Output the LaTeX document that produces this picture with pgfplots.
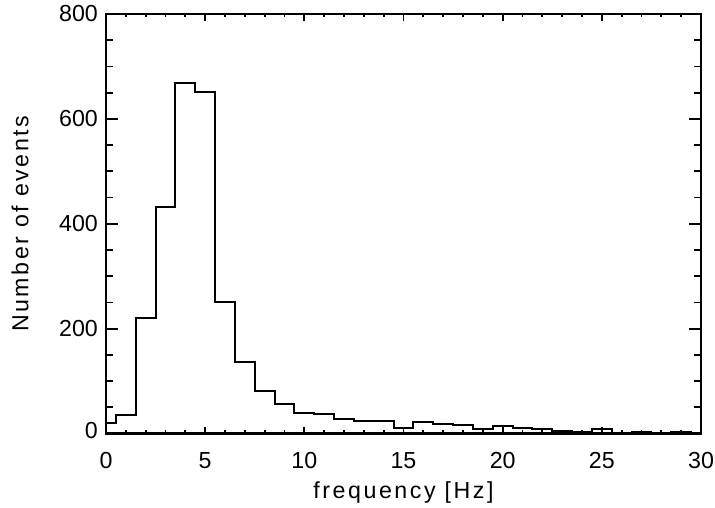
\documentclass[border=0pt]{standalone}
\usepackage{fontspec}
\setmainfont{Liberation Sans}
\newfontfamily\labelfont[LetterSpace=11]{Liberation Sans}
\usepackage{pgfplots}
\pgfplotsset{compat=1.18}
\begin{document}
\fontsize{11.6}{13.9}\selectfont
\begin{tikzpicture}
  \path[use as bounding box] (-53pt,-36.75pt) rectangle (304.5pt,216.75pt);
  % histogram and x ticks
  \begin{axis}[
      name=ax,
      scale only axis,
      width=297.5pt, height=209.75pt,
      xmin=0, xmax=30, ymin=0, ymax=800,
      xtick={0,5,...,30}, minor x tick num=4,
      ytick=\empty,
      tick align=inside,
      major tick length=3.3pt, minor tick length=1.7pt,
      axis line style={line width=1pt},
      every tick/.style={black, line width=0.9pt},
      /pgf/number format/assume math mode=true,
      xticklabel style={yshift=-5.5pt},
      xlabel={\labelfont frequency [Hz]},
      xlabel style={at={(axis description cs:0.5,-0.1418)}, anchor=center},
  ]
    % counts per 1 Hz bin, bins centred on integers
    \addplot[const plot mark mid, black, line width=1pt] coordinates {
      (0,20) (1,35) (2,221) (3,431) (4,669) (5,652) (6,250) (7,136)
      (8,82) (9,57) (10,39) (11,37) (12,28) (13,23) (14,23) (15,10)
      (16,22) (17,19) (18,17) (19,8) (20,14) (21,11) (22,9) (23,5)
      (24,2) (25,8) (26,0) (27,3) (28,1) (29,2.5) (30,0.5)
    };
  \end{axis}
  % y ticks (longer)
  \begin{axis}[
      scale only axis,
      width=297.5pt, height=209.75pt,
      xmin=0, xmax=30, ymin=0, ymax=800,
      xtick=\empty,
      ytick={0,200,...,800}, minor y tick num=3,
      yticklabels={\raisebox{3.3pt}{0},200,400,600,800},
      tick align=inside,
      major tick length=6pt, minor tick length=3.3pt,
      axis line style={line width=1pt},
      every tick/.style={black, line width=0.9pt},
      ylabel={\labelfont Number of events},
      ylabel style={at={(axis description cs:-0.1445,0.5)}, anchor=center},
  ]
  \end{axis}
\end{tikzpicture}
\end{document}
